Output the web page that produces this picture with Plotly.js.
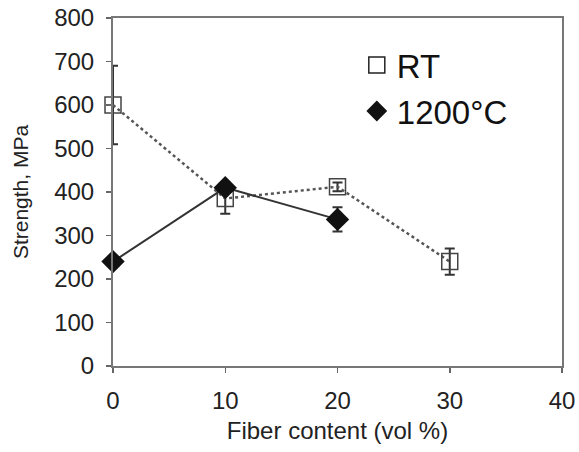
<!DOCTYPE html>
<html>
<head>
<meta charset="utf-8">
<script src="https://cdn.plot.ly/plotly-3.0.1.min.js"></script>
<style>html,body{margin:0;padding:0;background:#fff;}#chart{width:579px;height:452px;}</style>
</head>
<body>
<div id="chart"></div>
<script>
const fiberContent = [0, 10, 20, 30];
const rtStrength = [600, 385, 412, 240];
const rtError = [90, 35, 10, 30];
const hotFiber = [0, 10, 20];
const hotStrength = [240, 410, 337];
const hotError = [0, 0, 28];
const seriesNames = ['RT', '1200°C'];
const xTicks = [0, 10, 20, 30, 40];
const yTicks = [0, 100, 200, 300, 400, 500, 600, 700, 800];

const traces = [
  {
    x: fiberContent, y: rtStrength, name: seriesNames[0], mode: 'lines+markers', showlegend: false, cliponaxis: false,
    line: {color: '#555', width: 2.5, dash: 'dot'},
    marker: {symbol: 'square-open', size: 16, color: '#444', line: {width: 1.5, color: '#444'}},
    error_y: {type: 'data', array: rtError, visible: true, color: '#333', thickness: 2, width: 5}
  },
  {
    x: hotFiber, y: hotStrength, name: seriesNames[1], mode: 'lines+markers', showlegend: false, cliponaxis: false,
    line: {color: '#333', width: 2},
    marker: {symbol: 'diamond', size: 18, color: '#111'},
    error_y: {type: 'data', array: hotError, visible: true, color: '#333', thickness: 2, width: 5}
  },
  {x: [null], y: [null], name: seriesNames[0], mode: 'markers',
   marker: {symbol: 'square-open', size: 16, color: '#222', line: {width: 1.5}}},
  {x: [null], y: [null], name: seriesNames[1], mode: 'markers',
   marker: {symbol: 'diamond', size: 16, color: '#111'}}
];

const layout = {
  width: 579, height: 452,
  margin: {l: 113, r: 17, t: 18, b: 86},
  paper_bgcolor: '#fff', plot_bgcolor: '#fff',
  font: {family: 'Liberation Sans, Arial, sans-serif', color: '#222'},
  showlegend: true,
  legend: {x: 0.543, y: 0.945, xanchor: 'left', yanchor: 'top', font: {size: 33, color: '#111'},
           bgcolor: 'rgba(0,0,0,0)', tracegroupgap: 0, itemwidth: 30},
  xaxis: {
    range: [0, 40], tickvals: xTicks, ticks: 'outside', ticklen: 5, tickwidth: 1.5, tickcolor: '#666',
    ticklabelstandoff: 7,
    showline: true, linecolor: '#777', linewidth: 2, mirror: true, showgrid: false, zeroline: false,
    tickfont: {size: 24}, title: {text: 'Fiber content (vol %)', font: {size: 24}, standoff: 9}
  },
  yaxis: {
    range: [0, 800], tickvals: yTicks, ticks: 'outside', ticklen: 5, tickwidth: 1.5, tickcolor: '#666',
    ticklabelstandoff: 7,
    showline: true, linecolor: '#777', linewidth: 2, mirror: true, showgrid: false, zeroline: false,
    tickfont: {size: 24}, title: {text: 'Strength, MPa', font: {size: 21}, standoff: 20}
  }
};

Plotly.newPlot('chart', traces, layout, {staticPlot: true});
</script>
</body>
</html>
